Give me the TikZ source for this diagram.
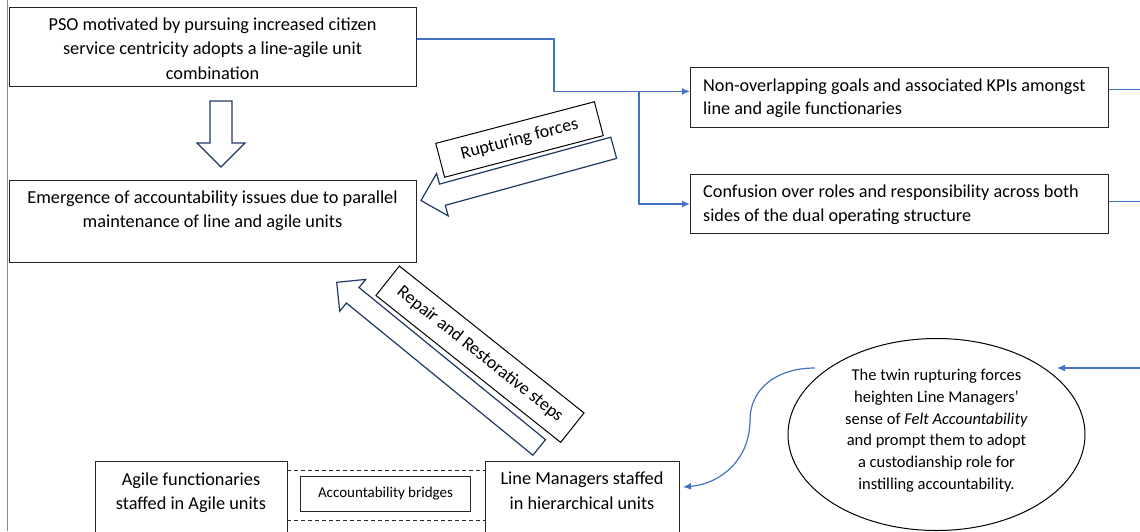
\documentclass[tikz,border=0pt]{standalone}
\usepackage{fontspec}
\setmainfont{Carlito}
\usetikzlibrary{shapes.geometric,arrows.meta,calc}
\definecolor{cblue}{HTML}{4472C4}
\definecolor{navy}{HTML}{203864}
\newcommand{\mytpc}[2]{\parbox[t]{#1}{\centering #2}}
\newcommand{\mytpl}[2]{\parbox[t]{#1}{\raggedright #2}}
\tikzset{
  box/.style={draw=black!85, line width=1.1pt, inner sep=0pt, anchor=north west},
  txt/.style={inner sep=0pt, anchor=base, font=\fontsize{18.3}{24.5}\selectfont},
  txtl/.style={inner sep=0pt, anchor=base west, font=\fontsize{18.2}{23.5}\selectfont},
  etxt/.style={inner sep=0pt, anchor=base, font=\fontsize{16.5}{21.8}\selectfont},
  conn/.style={draw=cblue, line width=1.4pt, -{Latex[length=8pt,width=7pt]}},
  thinconn/.style={draw=cblue, line width=0.9pt},
  blockarrow/.style={draw=navy, line width=1.2pt, fill=white, line join=miter},
  rotlabel/.style={draw=black, line width=1pt, fill=white, inner sep=0pt, font=\fontsize{18}{20}\selectfont},
}
\begin{document}
\begin{tikzpicture}[x=1pt,y=-1pt]
\useasboundingbox (0,0) rectangle (1140,531);
\fill[white] (0,0) rectangle (1140,531);
% left page edge
\draw[black!45, line width=0.8pt] (7,0) -- (7,531);

% boxes
\node[box, minimum width=407, minimum height=79] (pso) at (9,7) {};
\node[txt] (psot) at (212.5,30) {\mytpc{400pt}{PSO motivated by pursuing increased citizen\\service centricity adopts a line-agile unit\\combination}};

\node[box, minimum width=407, minimum height=82] (emg) at (9,180) {};
\node[txt] (emgt) at (212.5,203) {\mytpc{400pt}{Emergence of accountability issues due to parallel\\maintenance of line and agile units}};

\node[box, minimum width=418, minimum height=60] (g1) at (690,67) {};
\node[txtl] (g1t) at (703,91) {\mytpl{400pt}{Non-overlapping goals and associated KPIs amongst\\line and agile functionaries}};

\node[box, minimum width=418, minimum height=59] (g2) at (690,174) {};
\node[txtl] (g2t) at (703,197.5) {\mytpl{400pt}{Confusion over roles and responsibility across both\\sides of the dual operating structure}};

\node[box, minimum width=192, minimum height=80] (agile) at (95,461) {};
\node[txt] (agilet) at (191,485) {\mytpc{190pt}{Agile functionaries\\staffed in Agile units}};

\node[box, minimum width=194, minimum height=80] (lm) at (485,461) {};
\node[txt] (lmt) at (582,484.5) {\mytpc{190pt}{Line Managers staffed\\in hierarchical units}};

\node[box, line width=1pt, minimum width=170, minimum height=35] (bridge) at (300,476) {};
\node[inner sep=0pt, font=\fontsize{15}{17}\selectfont] (bridget) at (bridge.center) {Accountability bridges};

% ellipse
\node[ellipse, draw=black, line width=1pt, minimum width=297, minimum height=192, inner sep=0pt] (ell) at (936.5,434.5) {};
\node[etxt] (ellt) at (936.5,380.5) {\mytpc{260pt}{The twin rupturing forces\\heighten Line Managers’\\sense of \textit{Felt Accountability}\\and prompt them to adopt\\a custodianship role for\\instilling accountability.}};

% dashed bridges
\coordinate (dt1) at (287,470);
\coordinate (db1) at (287,520);
\draw[black!85, line width=1pt, dash pattern=on 4pt off 3pt] (dt1) -- (dt1 -| lm.west);
\draw[black!85, line width=1pt, dash pattern=on 4pt off 3pt] (db1) -- (db1 -| lm.west);

% blue connectors
\coordinate (p1) at ($(pso.north east)!0.4!(pso.south east)$);
\coordinate (t1) at ($(g1.north west)!0.4!(g1.south west)$);
\coordinate (br) at (639,0 |- t1);
\draw[conn] (p1) -- (554,0 |- p1) |- (t1);
\draw[conn] (br) |- (g2.west);
\coordinate (r1) at (1140,89);
\coordinate (r2) at (1140,201.5);
\draw[thinconn] (g1.east |- r1) -- (r1);
\draw[thinconn] (g2.east |- r2) -- (r2);
\coordinate (rin) at (1140,368);
\coordinate (rtip) at (1057,368);
\draw[conn, line width=1.2pt] (rin) -- (rtip);
\coordinate (cs) at (815,368);
\coordinate (ce) at (683,487);
\draw[conn, line width=1.2pt] (cs) .. controls (775,368) and (750,390) .. (750,420) .. controls (750,460) and (720,484) .. (ce);

% block arrows
\draw[blockarrow] (210,101) -- (232,101) -- (232,143) -- (245,143) -- (221,167) -- (197,143) -- (210,143) -- cycle;
\draw[blockarrow] (610.8,137.2) -- (439.5,184.1) -- (436.6,173.5) -- (421,200.5) -- (448.2,215.9) -- (445.3,205.3) -- (616.6,158.4) -- cycle;
\draw[blockarrow] (532.9,455.2) -- (346.4,303.0) -- (339.7,311.2) -- (336.7,282.3) -- (365.7,279.4) -- (359.0,287.5) -- (545.5,439.6) -- cycle;

% rotated labels
\node[rotlabel, minimum width=164, minimum height=35, rotate=14.7] (rupt) at (519.5,139.5) {Rupturing forces};
\node[rotlabel, minimum width=236, minimum height=37.6, rotate=-38.5] (rep) at (480,354.2) {Repair and Restorative steps};
\end{tikzpicture}
\end{document}
